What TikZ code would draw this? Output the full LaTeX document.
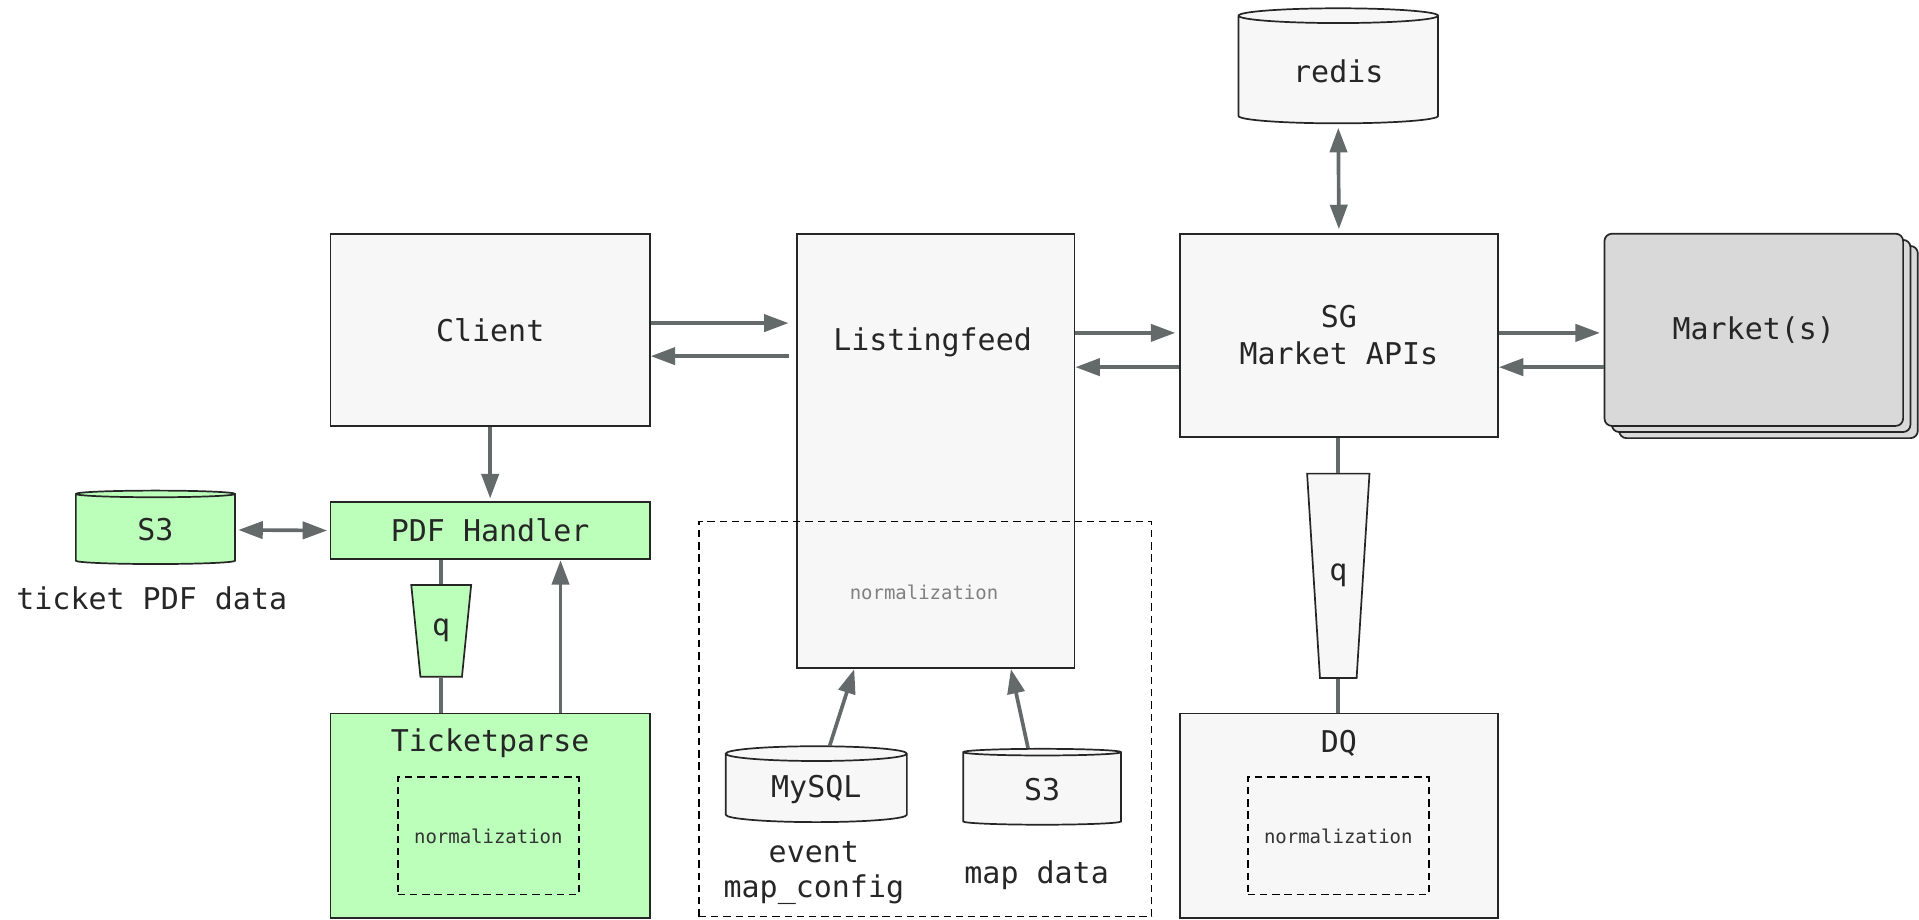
\documentclass[tikz,border=0pt]{standalone}
\usepackage{fontspec}
\setmonofont{DejaVu Sans Mono}
\usetikzlibrary{shapes.geometric,arrows.meta,shadows}
\definecolor{boxgrey}{HTML}{F7F7F7}
\definecolor{pdfgreen}{HTML}{BBFFBB}
\definecolor{marketgrey}{HTML}{D9D9D9}
\definecolor{arrowgrey}{HTML}{646969}
\definecolor{textgrey}{HTML}{808080}

\tikzset{
  box/.style={draw=black!85, line width=1.4pt, fill=boxgrey, text=black!85,
    font=\ttfamily\fontsize{24.5}{30}\selectfont},
  greenbox/.style={box, fill=pdfgreen},
  db/.style={box, cylinder, shape border rotate=90, aspect=0.15},
  queue/.style={box, trapezium, shape border rotate=180, text height=12pt, text depth=5pt},
  norm/.style={draw=black, line width=1.3pt, dash pattern=on 6pt off 4pt,
    minimum width=148pt, minimum height=96pt, text=black!80,
    font=\ttfamily\fontsize{15.5}{18}\selectfont},
  caption/.style={text=black!85, align=center, font=\ttfamily\fontsize{24.5}{29}\selectfont},
  tip/.tip={Triangle[length=20pt,width=14pt]},
  link/.style={draw=arrowgrey, line width=3pt, -tip},
  both/.style={draw=arrowgrey, line width=3pt, tip-tip},
  plain/.style={draw=arrowgrey, line width=3pt}
}

\begin{document}
\begin{tikzpicture}[x=1pt,y=-1pt]
\useasboundingbox (0,0) rectangle (1568,751);

% main services
\node[box, minimum width=261pt, minimum height=157pt] (client) at (400.5,269.5) {Client};
\node[box, minimum width=227pt, minimum height=355pt] (listing) at (764.5,368.5) {};
\node[caption] (listingname) at (762,280) {Listingfeed};
\node[text=textgrey, font=\ttfamily\fontsize{15.5}{18}\selectfont] (listingnorm) at (755,484) {normalization};
\node[box, minimum width=260pt, minimum height=166pt, align=center] (sg) at (1094,274) {SG\\Market APIs};
\node[box, fill=marketgrey, rounded corners=6pt, minimum width=244pt, minimum height=157pt,
  double copy shadow={shadow xshift=6pt, shadow yshift=-5pt}] (market) at (1433,269.5) {Market(s)};
\node[db, minimum width=163pt, minimum height=94pt] (redis) at (1093.5,58) {redis};

% pdf side
\node[greenbox, minimum width=261pt, minimum height=47pt] (pdf) at (400.5,433.5) {PDF Handler};
\node[db, fill=pdfgreen, minimum width=130pt, minimum height=60pt] (s3pdf) at (127,433) {S3};
\node[caption] (s3pdfname) at (124,489) {ticket PDF data};
\node[queue, fill=pdfgreen, inner xsep=9.6pt, inner ysep=29pt,
  trapezium left angle=84.3, trapezium right angle=84.3] (qpdf) at (360.5,515.5) {q};
\node[greenbox, minimum width=261pt, minimum height=167pt] (ticket) at (400.5,666.5) {};
\node[caption] (ticketname) at (400.5,607) {Ticketparse};
\node[norm] (ticketnorm) at (399,683) {normalization};

% listingfeed sources
\node[db, minimum width=148pt, minimum height=62pt] (mysql) at (667,645) {MySQL};
\node[caption] (mysqlname) at (665,713.5) {event\\map\_config};
\node[db, minimum width=129pt, minimum height=62pt] (s3map) at (851.5,645) {S3};
\node[caption] (s3mapname) at (847,715) {map data};
\node[norm, minimum width=370pt, minimum height=323pt] (sources) at (756,587.5) {};

% dq side
\node[queue, inner xsep=7.6pt, inner ysep=75pt,
  trapezium left angle=86.4, trapezium right angle=86.4] (qdq) at (1093.5,470.5) {q};
\node[box, minimum width=260pt, minimum height=167pt] (dq) at (1094,666.5) {};
\node[caption] (dqname) at (1094,607) {DQ};
\node[norm] (dqnorm) at (1093.5,683) {normalization};

% connectors
\draw[link, shorten >=6pt] ([yshift=5.5pt]client.east) -- ([yshift=5.5pt]client.east -| listing.west);
\draw[link, shorten <=6pt] ([yshift=-21.5pt]client.east -| listing.west) -- ([yshift=-21.5pt]client.east);
\draw[link, shorten >=3pt] ([yshift=2pt]sg.west -| listing.east) -- ([yshift=2pt]sg.west);
\draw[link] ([yshift=-26pt]sg.west) -- ([yshift=-26pt]sg.west -| listing.east);
\draw[link, shorten >=3pt] ([yshift=-2.5pt]market.west -| sg.east) -- ([yshift=-2.5pt]market.west);
\draw[link] ([yshift=-30.5pt]market.west) -- ([yshift=-30.5pt]market.west -| sg.east);
\draw[both, shorten <=3pt, shorten >=3pt] (redis.south) -- (sg.north);

\draw[link, shorten >=2pt] (client.south) -- (pdf.north);
\draw[both, shorten <=2pt, shorten >=2pt] (s3pdf.east) -- (pdf.west);
\draw[plain] (qpdf.north) -- (qpdf.north |- pdf.south);
\draw[plain] (qpdf.south) -- (qpdf.south |- ticket.north);
\draw[link] ([xshift=57.5pt]ticket.north) -- ([xshift=57.5pt]pdf.south);

\draw[link] ([xshift=11pt]mysql.north) -- ([xshift=-66.5pt]listing.south);
\draw[link] ([xshift=-11.5pt]s3map.north) -- ([xshift=61.5pt]listing.south);

\draw[plain] (qdq.north) -- (qdq.north |- sg.south);
\draw[plain] (qdq.south) -- (qdq.south |- dq.north);
\end{tikzpicture}
\end{document}
